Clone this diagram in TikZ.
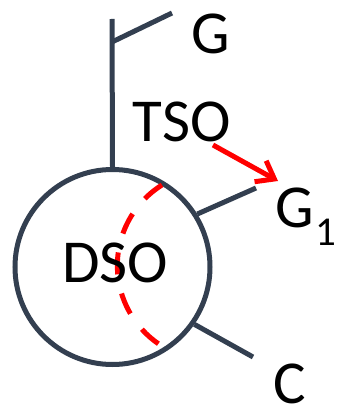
\documentclass[tikz,border=0pt]{standalone}
\usepackage{fontspec}
\setmainfont{Carlito}
\usetikzlibrary{arrows.meta}
\definecolor{slate}{HTML}{333F50}
\definecolor{redc}{HTML}{FF0000}
\begin{document}
\begin{tikzpicture}[x=1pt,y=-1pt,
  stem/.style={draw=slate,line width=5pt},
  lbl/.style={inner sep=0pt,anchor=base,font=\fontsize{61}{61}\selectfont},
  sublbl/.style={inner sep=0pt,anchor=base,font=\fontsize{41}{41}\selectfont},
  reddash/.style={draw=redc,line width=5pt,dash pattern=on 22pt off 19.5pt},
  redarrow/.style={draw=redc,line width=5pt,-{Straight Barb[length=16pt,width=24pt]}}]
\useasboundingbox (0,0) rectangle (337,406);
\node[stem,circle,minimum size=195pt,inner sep=0pt] (dso) at (112.5,267) {};
\coordinate (top) at (112,19);
\coordinate (fork) at (112,42);
\coordinate (gend) at (172,13);
\coordinate (g1end) at (256,188);
\coordinate (cend) at (253,357);
\draw[stem] (top) -- (dso.north);
\draw[stem] (fork) -- (gend);
\draw[stem] (dso.32) -- (g1end);
\draw[stem] (dso.-35) -- (cend);
\coordinate (arcstart) at (162,185);
\draw[reddash] (arcstart) arc[start angle=238,end angle=124,radius=95];
\coordinate (arrs) at (213,145);
\coordinate (arre) at (278,181);
\draw[redarrow] (arrs) -- (arre);
\node[lbl] (g) at (211,54) {G};
\node[lbl] (tso) at (181.5,141.5) {TSO};
\node[lbl] (dsolbl) at (115,282.5) {DSO};
\node[lbl] (g1) at (295,227.5) {G};
\node[sublbl] (g1sub) at (326,245) {1};
\node[lbl] (c) at (290,403) {C};
\end{tikzpicture}
\end{document}
